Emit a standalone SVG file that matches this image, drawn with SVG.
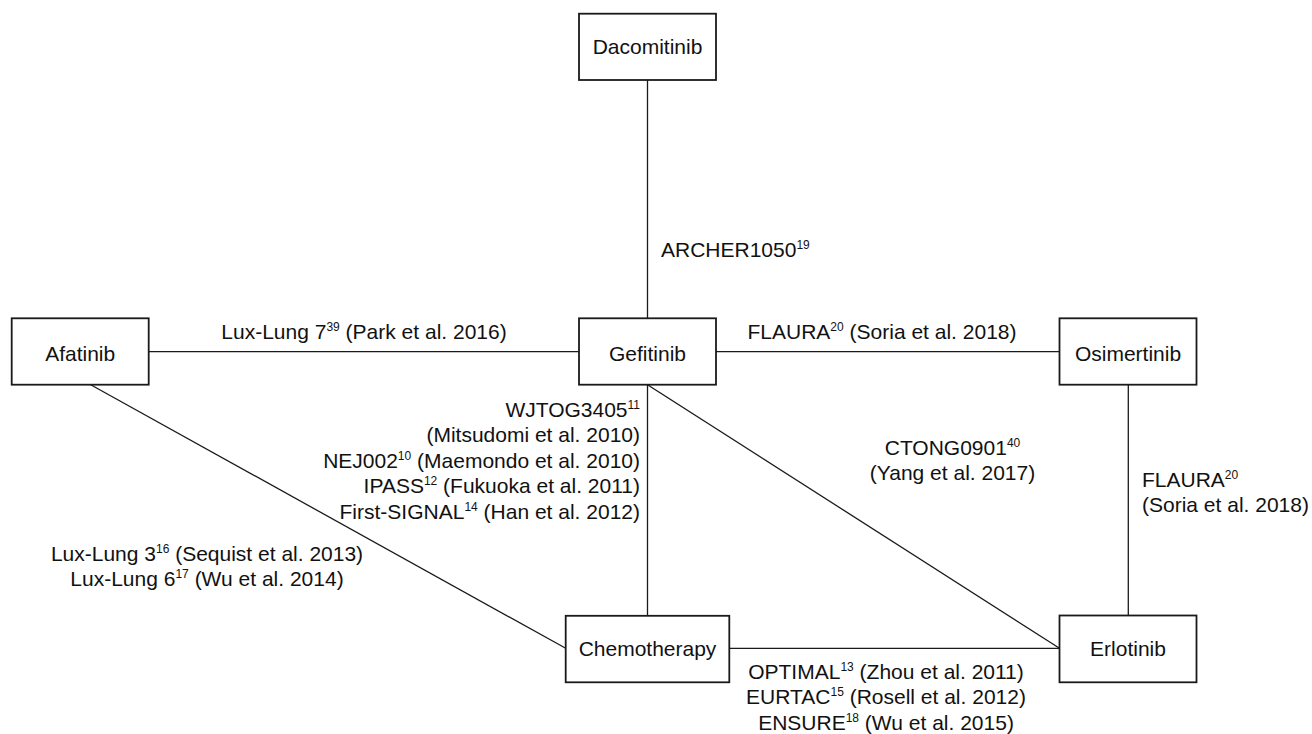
<svg xmlns="http://www.w3.org/2000/svg" width="1312" height="734" viewBox="0 0 1312 734">
<style>
.box{fill:#fff;stroke:#1a1a1a;stroke-width:1.8}
.ln{stroke:#1a1a1a;stroke-width:1.3;fill:none}
text{font-family:"Liberation Sans",Arial,sans-serif;font-size:21px;fill:#111}
.c{text-anchor:middle}
.r{text-anchor:end}
.s{font-size:12px}
</style>
<rect width="1312" height="734" fill="#fff"/>
<g id="connectors">
<line class="ln" x1="647.5" y1="80" x2="647.5" y2="318.3"/>
<line class="ln" x1="148.7" y1="351.7" x2="579" y2="351.7"/>
<line class="ln" x1="716" y1="351.7" x2="1059.5" y2="351.7"/>
<line class="ln" x1="647.5" y1="384.7" x2="647.5" y2="615.8"/>
<line class="ln" x1="647.5" y1="384.7" x2="1059.5" y2="648.3"/>
<line class="ln" x1="90.7" y1="384.7" x2="565.7" y2="648.3"/>
<line class="ln" x1="1128.3" y1="384.7" x2="1128.3" y2="615.5"/>
<line class="ln" x1="729.3" y1="648.3" x2="1059.5" y2="648.3"/>
</g>
<g id="labels">
<text x="661" y="257">ARCHER1050<tspan class="s" dy="-8">19</tspan></text>
<text class="c" x="364" y="339">Lux-Lung 7<tspan class="s" dy="-8">39</tspan><tspan dy="8"> (Park et al. 2016)</tspan></text>
<text class="c" x="882" y="339">FLAURA<tspan class="s" dy="-8">20</tspan><tspan dy="8"> (Soria et al. 2018)</tspan></text>
<text class="r" x="640" y="416.5">WJTOG3405<tspan class="s" dy="-8">11</tspan></text>
<text class="r" x="640" y="442">(Mitsudomi et al. 2010)</text>
<text class="r" x="640" y="467.5">NEJ002<tspan class="s" dy="-8">10</tspan><tspan dy="8"> (Maemondo et al. 2010)</tspan></text>
<text class="r" x="640" y="493">IPASS<tspan class="s" dy="-8">12</tspan><tspan dy="8"> (Fukuoka et al. 2011)</tspan></text>
<text class="r" x="640" y="518.5">First-SIGNAL<tspan class="s" dy="-8">14</tspan><tspan dy="8"> (Han et al. 2012)</tspan></text>
<text class="c" x="952.5" y="455">CTONG0901<tspan class="s" dy="-8">40</tspan></text>
<text class="c" x="952.5" y="480">(Yang et al. 2017)</text>
<text x="1142" y="487">FLAURA<tspan class="s" dy="-8">20</tspan></text>
<text x="1142" y="512">(Soria et al. 2018)</text>
<text class="c" x="207" y="560.5">Lux-Lung 3<tspan class="s" dy="-8">16</tspan><tspan dy="8"> (Sequist et al. 2013)</tspan></text>
<text class="c" x="207" y="586">Lux-Lung 6<tspan class="s" dy="-8">17</tspan><tspan dy="8"> (Wu et al. 2014)</tspan></text>
<text class="c" x="886" y="678.5">OPTIMAL<tspan class="s" dy="-8">13</tspan><tspan dy="8"> (Zhou et al. 2011)</tspan></text>
<text class="c" x="886" y="704">EURTAC<tspan class="s" dy="-8">15</tspan><tspan dy="8"> (Rosell et al. 2012)</tspan></text>
<text class="c" x="886" y="729.5">ENSURE<tspan class="s" dy="-8">18</tspan><tspan dy="8"> (Wu et al. 2015)</tspan></text>
</g>
<g id="node-dacomitinib">
<rect class="box" x="579" y="13.7" width="137" height="66.3"/>
<text class="c" x="647.5" y="53.5">Dacomitinib</text>
</g>
<g id="node-afatinib">
<rect class="box" x="11.7" y="318.3" width="137" height="66.4"/>
<text class="c" x="80.2" y="360.5">Afatinib</text>
</g>
<g id="node-gefitinib">
<rect class="box" x="579" y="318.3" width="137" height="66.4"/>
<text class="c" x="647.5" y="360.5">Gefitinib</text>
</g>
<g id="node-osimertinib">
<rect class="box" x="1059.5" y="318.3" width="137" height="66.4"/>
<text class="c" x="1128" y="360.5">Osimertinib</text>
</g>
<g id="node-chemotherapy">
<rect class="box" x="565.7" y="615.8" width="163.6" height="66.5"/>
<text class="c" x="647.5" y="655.5">Chemotherapy</text>
</g>
<g id="node-erlotinib">
<rect class="box" x="1059.5" y="615.5" width="137" height="66.8"/>
<text class="c" x="1128" y="655.5">Erlotinib</text>
</g>
</svg>
